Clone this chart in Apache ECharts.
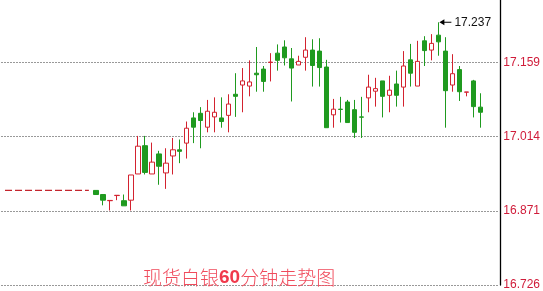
<!DOCTYPE html>
<html><head><meta charset="utf-8">
<script src="https://cdn.jsdelivr.net/npm/echarts@6/dist/echarts.min.js"></script>
<style>html,body{margin:0;padding:0;background:#fff}#c{width:543px;height:291px}</style>
</head><body><div id="c"></div>
<script>
// ---- data ----
const leadingSlots = 13;
const trailingSlots = 2;
const prevClose = 16.910;
const opens  = [16.910,16.902,16.890,16.900,16.890,16.891,16.942,16.997,16.942,16.981,16.944,16.977,16.989,17.002,17.051,17.060,17.033,17.053,17.051,17.056,17.097,17.115,17.113,17.138,17.146,17.159,17.177,17.189,17.166,17.154,17.169,17.183,17.181,17.150,17.057,17.068,17.082,17.067,17.053,17.090,17.103,17.123,17.095,17.117,17.111,17.164,17.113,17.201,17.183,17.212,17.181,17.115,17.145,17.101,17.123,17.072];
const closes = [16.902,16.891,16.8905,16.9005,16.880,16.940,16.996,16.945,16.965,16.957,16.963,16.989,16.986,17.031,17.033,17.046,17.064,17.062,17.044,17.078,17.093,17.123,17.121,17.135,17.122,17.1595,17.163,17.168,17.148,17.161,17.183,17.153,17.149,17.032,17.068,17.0675,17.042,17.023,17.0525,17.111,17.108,17.093,17.105,17.095,17.152,17.138,17.161,17.182,17.196,17.199,17.104,17.137,17.102,17.1015,17.073,17.062];
const lows   = [16.902,16.881,16.871,16.891,16.880,16.871,16.942,16.941,16.942,16.921,16.913,16.941,16.963,16.972,17.002,16.992,17.023,17.023,17.032,17.023,17.053,17.062,17.093,17.102,17.102,17.122,17.143,17.153,17.083,17.154,17.143,17.112,17.112,17.032,17.032,17.042,17.042,17.012,17.012,17.062,17.073,17.052,17.062,17.073,17.073,17.112,17.113,17.152,17.163,17.172,17.032,17.102,17.084,17.093,17.052,17.032];
const highs  = [16.910,16.902,16.8905,16.9005,16.902,16.940,17.016,17.016,17.003,16.987,16.992,17.012,17.009,17.044,17.062,17.072,17.086,17.091,17.091,17.097,17.138,17.148,17.163,17.189,17.152,17.177,17.194,17.202,17.187,17.172,17.208,17.204,17.206,17.164,17.088,17.092,17.086,17.086,17.092,17.135,17.129,17.123,17.133,17.143,17.181,17.195,17.201,17.210,17.214,17.237,17.208,17.175,17.152,17.1015,17.125,17.099];
const yTickValues = [16.726, 16.871, 17.014, 17.159];
const yTickLabels = ['16.726', '16.871', '17.014', '17.159'];
const yMax = 17.2804;
const titleParts = ['现货白银', '60', '分钟走势图'];

// ---- build ----
const total = leadingSlots + opens.length + trailingSlots;
const categories = [];
const candleData = [];
const prevLine = [];
for (let i = 0; i < total; i++) {
  categories.push(String(i));
  const k = i - leadingSlots;
  if (k >= 0 && k < opens.length) {
    candleData.push([opens[k], closes[k], lows[k], highs[k]]);
  } else {
    candleData.push('-');
  }
  prevLine.push(i < leadingSlots ? prevClose : '-');
}
const yInterval = (yTickValues[3] - yTickValues[0]) / 3;

const chart = echarts.init(document.getElementById('c'), null, {renderer: 'canvas'});
chart.setOption({
  animation: false,
  backgroundColor: '#ffffff',
  title: {
    text: '{a|' + titleParts[0] + '}{b|' + titleParts[1] + '}{a|' + titleParts[2] + '}',
    left: 143, top: 268, padding: 0,
    textStyle: {
      rich: {
        a: {fontFamily: 'Noto Sans CJK SC', fontSize: 19, fontWeight: 300, color: '#f04b5c'},
        b: {fontFamily: 'Liberation Sans, Arial', fontSize: 19, fontWeight: 'bold', color: '#f03a4c'}
      }
    }
  },
  grid: {left: 1.5, right: 44.5, top: 0, bottom: 5.5},
  xAxis: {
    type: 'category', data: categories, boundaryGap: true,
    axisLine: {show: false}, axisTick: {show: false}, axisLabel: {show: false}, splitLine: {show: false}
  },
  yAxis: {
    type: 'value', position: 'right', offset: 2.5, scale: true,
    min: yTickValues[0], max: yMax, interval: yInterval,
    axisLine: {show: true, lineStyle: {color: '#000', width: 1.3}},
    axisTick: {show: false},
    axisLabel: {
      color: '#d01c3a', fontSize: 12, fontFamily: 'Liberation Sans, Arial', margin: 3,
      showMaxLabel: false,
      formatter: function (v, idx) { return yTickLabels[idx] !== undefined ? yTickLabels[idx] : ''; }
    },
    splitLine: {show: true, showMaxLine: false, lineStyle: {color: '#333', type: [1, 2], width: 1}}
  },
  series: [
    {
      type: 'line', data: prevLine, symbol: 'none', z: 1,
      lineStyle: {color: '#c4262e', width: 1.3, type: [7, 3]}
    },
    {
      type: 'candlestick', data: candleData, barWidth: 5, z: 3,
      itemStyle: {
        color: '#ffffff', borderColor: '#d3222f',
        color0: '#1f9a1f', borderColor0: '#1f9a1f', borderWidth: 1
      },
      markPoint: {
        symbol: 'path://M0,3L5,0L5,2.5L12,2.5L12,3.5L5,3.5L5,6Z',
        symbolSize: [12, 6], symbolOffset: [7, 0],
        itemStyle: {color: '#000'},
        label: {
          show: true, position: 'right', distance: 3, color: '#111', fontSize: 12,
          fontFamily: 'Liberation Sans, Arial',
          formatter: function (p) { return Number(p.value).toFixed(3); }
        },
        data: [{type: 'max', valueDim: 'highest'}]
      }
    }
  ]
});
</script>
</body></html>
